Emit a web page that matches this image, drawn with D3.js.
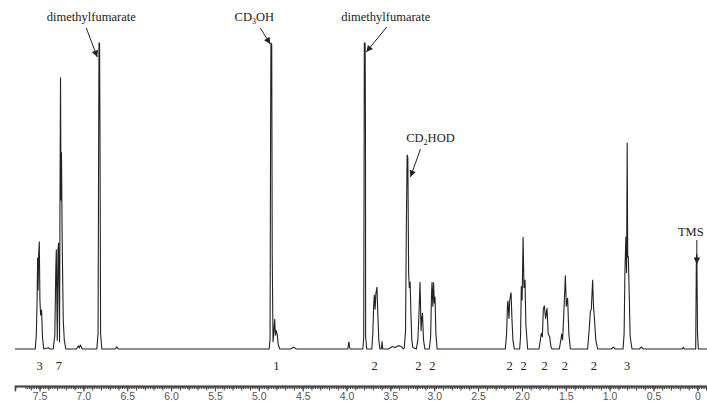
<!DOCTYPE html>
<html>
<head>
<meta charset="utf-8">
<script src="https://cdn.jsdelivr.net/npm/d3@7"></script>
<style>
	html, body { margin: 0; padding: 0; background: #fff; overflow: hidden; }
	#nmr-chart { width: 707px; height: 401px; display: block; }
	.peak-label, .integral { font-family: "Liberation Serif", "DejaVu Serif", serif; fill: #222; }
	.axis text { font-family: "Liberation Sans", Arial, sans-serif; fill: #555; }
	.axis path, .axis line { stroke: #444; }
</style>
</head>
<body>
<svg id="nmr-chart"></svg>
<script>
// 1H spectrum trace: [ppm, relative intensity]
var spectrumPoints = [
	[7.78, 0],
	[7.549, 0], [7.537, 4.6], [7.528, 16], [7.522, 29.7], [7.517, 19.3], [7.510, 30.7], [7.503, 35], [7.496, 16], [7.488, 11.1], [7.477, 12.7], [7.466, 3.6], [7.452, 0],
	[7.40, 0.4], [7.38, 0],
	[7.343, 0], [7.326, 4.6], [7.315, 25.8], [7.309, 32.4], [7.298, 2.9], [7.290, 32.4], [7.283, 34.6], [7.272, 2.3], [7.267, 48.7], [7.261, 88.6], [7.255, 48.7], [7.250, 64.1], [7.242, 35.6], [7.230, 9.5], [7.218, 2.9], [7.201, 0],
	[7.081, 0], [7.058, 1.0], [7.047, 0.3], [7.035, 1.3], [7.013, 0],
	[6.847, 0], [6.833, 5], [6.826, 70], [6.822, 100], [6.816, 100], [6.811, 70], [6.804, 5], [6.790, 0],
	[6.636, 0], [6.619, 0.7], [6.602, 0],
	[4.882, 0], [4.872, 3], [4.866, 70], [4.862, 100], [4.853, 99.5], [4.847, 30], [4.838, 2.4], [4.828, 6], [4.819, 9.7], [4.811, 4.5], [4.803, 6], [4.792, 5.1], [4.779, 1.5], [4.762, 0],
	[4.641, 0], [4.603, 0.6], [4.572, 0],
	[3.985, 0], [3.976, 2], [3.971, 2.2], [3.965, 0.5], [3.957, 0],
	[3.814, 0], [3.804, 4], [3.799, 70], [3.797, 100], [3.788, 100], [3.784, 70], [3.782, 4], [3.770, 0],
	[3.712, 0], [3.700, 5], [3.691, 14], [3.683, 17.6], [3.674, 13], [3.666, 18], [3.653, 20.2], [3.644, 12], [3.632, 3], [3.620, 0],
	[3.603, 0], [3.595, 2.4], [3.587, 0],
	[3.523, 0], [3.478, 0.8], [3.444, 0.5], [3.410, 1.1], [3.375, 0.8], [3.352, 0],
	[3.341, 0.5], [3.327, 6], [3.318, 40], [3.309, 63.4], [3.301, 62.5], [3.292, 25], [3.284, 20], [3.275, 21.9], [3.266, 12], [3.256, 3], [3.244, 0.5],
	[3.204, 0], [3.187, 3], [3.176, 10], [3.162, 21.8], [3.150, 6], [3.142, 10], [3.134, 11.7], [3.122, 3], [3.107, 0],
	[3.056, 0], [3.041, 4], [3.031, 18], [3.025, 21.8], [3.016, 14], [3.007, 21.6], [2.999, 15], [2.991, 17], [2.981, 5], [2.967, 0],
	[2.189, 0], [2.175, 5], [2.164, 15], [2.159, 15.7], [2.148, 10], [2.139, 16], [2.124, 18.4], [2.114, 10], [2.103, 3], [2.087, 0],
	[2.026, 0], [2.016, 4], [2.007, 20.4], [1.998, 16], [1.987, 36.5], [1.977, 20], [1.965, 22.5], [1.955, 8], [1.935, 0],
	[1.805, 0], [1.790, 3], [1.779, 5.1], [1.767, 4], [1.756, 13], [1.745, 14.1], [1.730, 10], [1.714, 13.3], [1.701, 5], [1.684, 4], [1.671, 1], [1.657, 0],
	[1.574, 0], [1.556, 3], [1.547, 4.9], [1.536, 3], [1.522, 12], [1.505, 23.9], [1.494, 14], [1.479, 16.6], [1.465, 5], [1.448, 0],
	[1.251, 0], [1.234, 6], [1.220, 12.2], [1.209, 13], [1.194, 22.5], [1.184, 14], [1.175, 10.6], [1.158, 3], [1.137, 0],
	[0.981, 0], [0.958, 0.6], [0.935, 0],
	[0.847, 0], [0.835, 5], [0.826, 25], [0.815, 36.6], [0.807, 25], [0.800, 67.3], [0.794, 30], [0.787, 30.2], [0.777, 18], [0.766, 4], [0.745, 0],
	[0.661, 0], [0.639, 0.6], [0.616, 0],
	[0.171, 0], [0.160, 0.6], [0.148, 0],
	[0.019, 0], [0.011, 30], [0.006, 31], [-0.002, 5], [-0.011, 0],
	[-0.11, 0]
];

// integration values printed under the multiplets
var integralPpm = [7.50, 7.28, 4.80, 3.68, 3.18, 3.02, 2.14, 1.98, 1.74, 1.51, 1.18, 0.80];
var integralValues = ['3', '7', '1', '2', '2', '2', '2', '2', '2', '2', '2', '3'];

// assigned signals
var annotationNames = ['dimethylfumarate', 'CD3OH', 'dimethylfumarate', 'CD2HOD', 'TMS'];
var annotationPpm = [6.819, 4.858, 3.792, 3.305, 0.006];

// axis ticks
var tickPpm = [7.5, 7.0, 6.5, 6.0, 5.5, 5.0, 4.5, 4.0, 3.5, 3.0, 2.5, 2.0, 1.5, 1.0, 0.5, 0];
var tickLabels = ['7.5', '7.0', '6.5', '6.0', '5.5', '5.0', '4.5', '4.0', '3.5', '3.0', '2.5', '2.0', '1.5', '1.0', '0.5', '0'];

window.app = window.app || {};

app.nmrChart = (function() {

	'use strict';

	/**
	* create the spectrum plot
	* @returns {undefined}
	*/
	var createSpectrum = function() {
		var svg = d3.select('#nmr-chart'),
			baseY = 349,
			axisY = 386;

		var xScale = d3.scaleLinear()
				.domain([7.78, -0.11])
				.range([15, 707]);

		var yScale = d3.scaleLinear()
				.domain([0, 100])
				.range([baseY, 43]);

		// arrow head
		svg.append('defs')
			.append('marker')
			.attr('id', 'arrow')
			.attr('viewBox', '0 0 10 10')
			.attr('refX', 10)
			.attr('refY', 5)
			.attr('markerWidth', 9)
			.attr('markerHeight', 6.5)
			.attr('markerUnits', 'userSpaceOnUse')
			.attr('orient', 'auto')
			.append('path')
			.attr('d', 'M0,0L10,5L0,10z')
			.attr('fill', '#222');

		// render trace
		var line = d3.line()
				.x(function(d) { return xScale(d[0]); })
				.y(function(d) { return yScale(d[1]); });

		svg.append('path')
			.datum(spectrumPoints)
			.attr('d', line)
			.attr('fill', 'none')
			.attr('stroke', '#222')
			.attr('stroke-width', 1.1)
			.attr('stroke-linejoin', 'round');

		// integrals
		svg.selectAll('.integral')
			.data(integralPpm)
			.enter()
			.append('text')
			.attr('class', 'integral')
			.attr('x', function(d) { return xScale(d); })
			.attr('y', 370)
			.attr('text-anchor', 'middle')
			.style('font-size', '12.5px')
			.text(function(d, i) { return integralValues[i]; });

		// label offsets from the peak, in px: text, arrow tail, arrow tip
		var labelLayout = [
			{ textDx: -8, textY: 21, tailDx: -13, tailY: 28, tipDx: -2, tipY: 57 },
			{ textDx: -17, textY: 21, tailDx: -11, tailY: 28, tipDx: -1, tipY: 44 },
			{ textDx: 21, textY: 21, tailDx: 22, tailY: 27, tipDx: 1.5, tipY: 52 },
			{ textDx: 23, textY: 142, tailDx: 13, tailY: 149, tipDx: 3, tipY: 177 },
			{ textDx: -6, textY: 236, tailDx: 0, tailY: 240, tipDx: 0, tipY: 264 }
		];

		annotationNames.forEach(function(name, i) {
			var px = xScale(annotationPpm[i]),
				pos = labelLayout[i],
				shift = 0,
				label = svg.append('text')
					.attr('class', 'peak-label')
					.attr('x', px + pos.textDx)
					.attr('y', pos.textY)
					.attr('text-anchor', 'middle')
					.style('font-size', '12.5px');

			// digits become subscripts
			name.split(/(\d)/).forEach(function(part) {
				if (!part) { return; }
				if (/\d/.test(part)) {
					label.append('tspan').attr('dy', 3).style('font-size', '8px').text(part);
					shift = -3;
				} else {
					label.append('tspan').attr('dy', shift).text(part);
					shift = 0;
				}
			});

			svg.append('line')
				.attr('x1', px + pos.tailDx)
				.attr('y1', pos.tailY)
				.attr('x2', px + pos.tipDx)
				.attr('y2', pos.tipY)
				.attr('stroke', '#222')
				.attr('stroke-width', 1)
				.attr('marker-end', 'url(#arrow)');
		});

		// render axis: minor, medium, labelled ticks
		var minorAxis = d3.axisBottom(xScale)
				.tickValues(d3.range(0, 389).map(function(k) { return k * 0.02 - 0.1; }))
				.tickSize(3)
				.tickFormat(''),
			midAxis = d3.axisBottom(xScale)
				.tickValues(d3.range(0, 78).map(function(k) { return k * 0.1 - 0.1; }))
				.tickSize(4.5)
				.tickFormat(''),
			mainAxis = d3.axisBottom(xScale)
				.tickValues(tickPpm)
				.tickSize(5.5)
				.tickPadding(1.5)
				.tickFormat(function(d, i) { return tickLabels[i]; });

		[minorAxis, midAxis, mainAxis].forEach(function(axis) {
			var g = svg.append('g')
				.attr('class', 'axis')
				.attr('transform', 'translate(0,' + axisY + ')')
				.call(axis);
			g.select('.domain').attr('stroke-width', 1.3);
			g.selectAll('text').style('font-size', '10.5px');
		});
	};


	/**
	*
	* @returns {undefined}
	*/
	var init = function() {
		createSpectrum();
	};

	return {
		init: init
	};

})();

app.nmrChart.init();
</script>
</body>
</html>
